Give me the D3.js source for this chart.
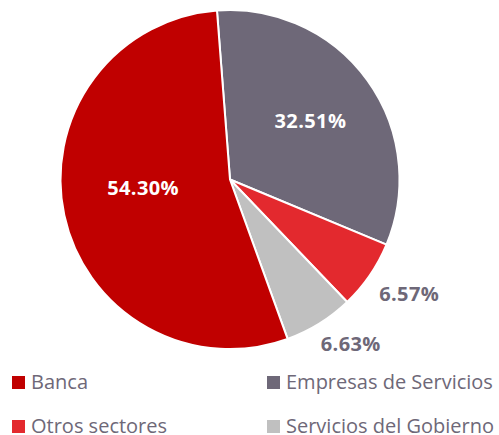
<!DOCTYPE html>
<html><head><meta charset="utf-8">
<script src="https://cdn.jsdelivr.net/npm/d3@7"></script>
<style>body{margin:0;background:#fff}svg{display:block}</style>
</head><body>
<svg id="c" width="499" height="435"></svg>
<script>
const categories = ["Empresas de Servicios","Otros sectores","Servicios del Gobierno","Banca"];
const values = [32.51, 6.57, 6.63, 54.30];
const labels = ["32.51%","6.57%","6.63%","54.30%"];
const legendOrder = ["Banca","Empresas de Servicios","Otros sectores","Servicios del Gobierno"];
const colors = {"Banca":"#c00000","Empresas de Servicios":"#6e6878","Otros sectores":"#e3292e","Servicios del Gobierno":"#c0c0c0"};
const inside = {"Banca":true,"Empresas de Servicios":true,"Otros sectores":false,"Servicios del Gobierno":false};

const svg = d3.select("#c");
const cx = 230, cy = 179.5, r = 169.5;
const font = "'Open Sans', sans-serif";
const start = -0.077;
const pie = d3.pie().sort(null).value(d=>d.v).startAngle(start).endAngle(start+2*Math.PI);
const data = categories.map((c,i)=>({c, v:values[i], l:labels[i]}));
const arcs = pie(data);
const arc = d3.arc().innerRadius(0).outerRadius(r);
const g = svg.append("g").attr("transform",`translate(${cx},${cy})`);
g.selectAll("path").data(arcs).join("path")
  .attr("d",arc).attr("fill",d=>colors[d.data.c])
  .attr("stroke","#fff").attr("stroke-width",2).attr("stroke-linejoin","round");

const pt = (a, rr)=>[rr*Math.sin(a), -rr*Math.cos(a)];
const inRad = {"Banca":0.515,"Empresas de Servicios":0.59};
const inRot = {"Banca":0.12,"Empresas de Servicios":-0.01};
arcs.forEach(d=>{
  const mid = (d.startAngle+d.endAngle)/2;
  if(inside[d.data.c]){
    const [x,y] = pt(mid+inRot[d.data.c], r*inRad[d.data.c]);
    g.append("text").attr("x",x).attr("y",y).attr("text-anchor","middle").attr("dominant-baseline","central")
      .attr("fill","#fff").attr("font-family",font).attr("font-weight","bold").attr("font-size",20)
      .attr("letter-spacing",0.4).text(d.data.l);
  } else {
    const [x,y] = pt(mid+0.05, r+18);
    g.append("text").attr("x",x).attr("y",y).attr("text-anchor","start").attr("dominant-baseline","central")
      .attr("fill","#6e6878").attr("font-family",font).attr("font-weight","bold").attr("font-size",20)
      .attr("letter-spacing",0.4).text(d.data.l);
  }
});

const legX = d3.scalePoint().domain([0,1]).range([12,267]);
const legY = d3.scalePoint().domain([0,1]).range([376,420]);
legendOrder.forEach((c,i)=>{
  const x = legX(i%2), y = legY(Math.floor(i/2));
  svg.append("rect").attr("x",x).attr("y",y).attr("width",13).attr("height",13).attr("fill",colors[c]);
  svg.append("text").attr("x",x+19).attr("y",y+13).attr("fill","#6e6878")
    .attr("font-family",font).attr("font-size",20).text(c);
});
</script>
</body></html>
